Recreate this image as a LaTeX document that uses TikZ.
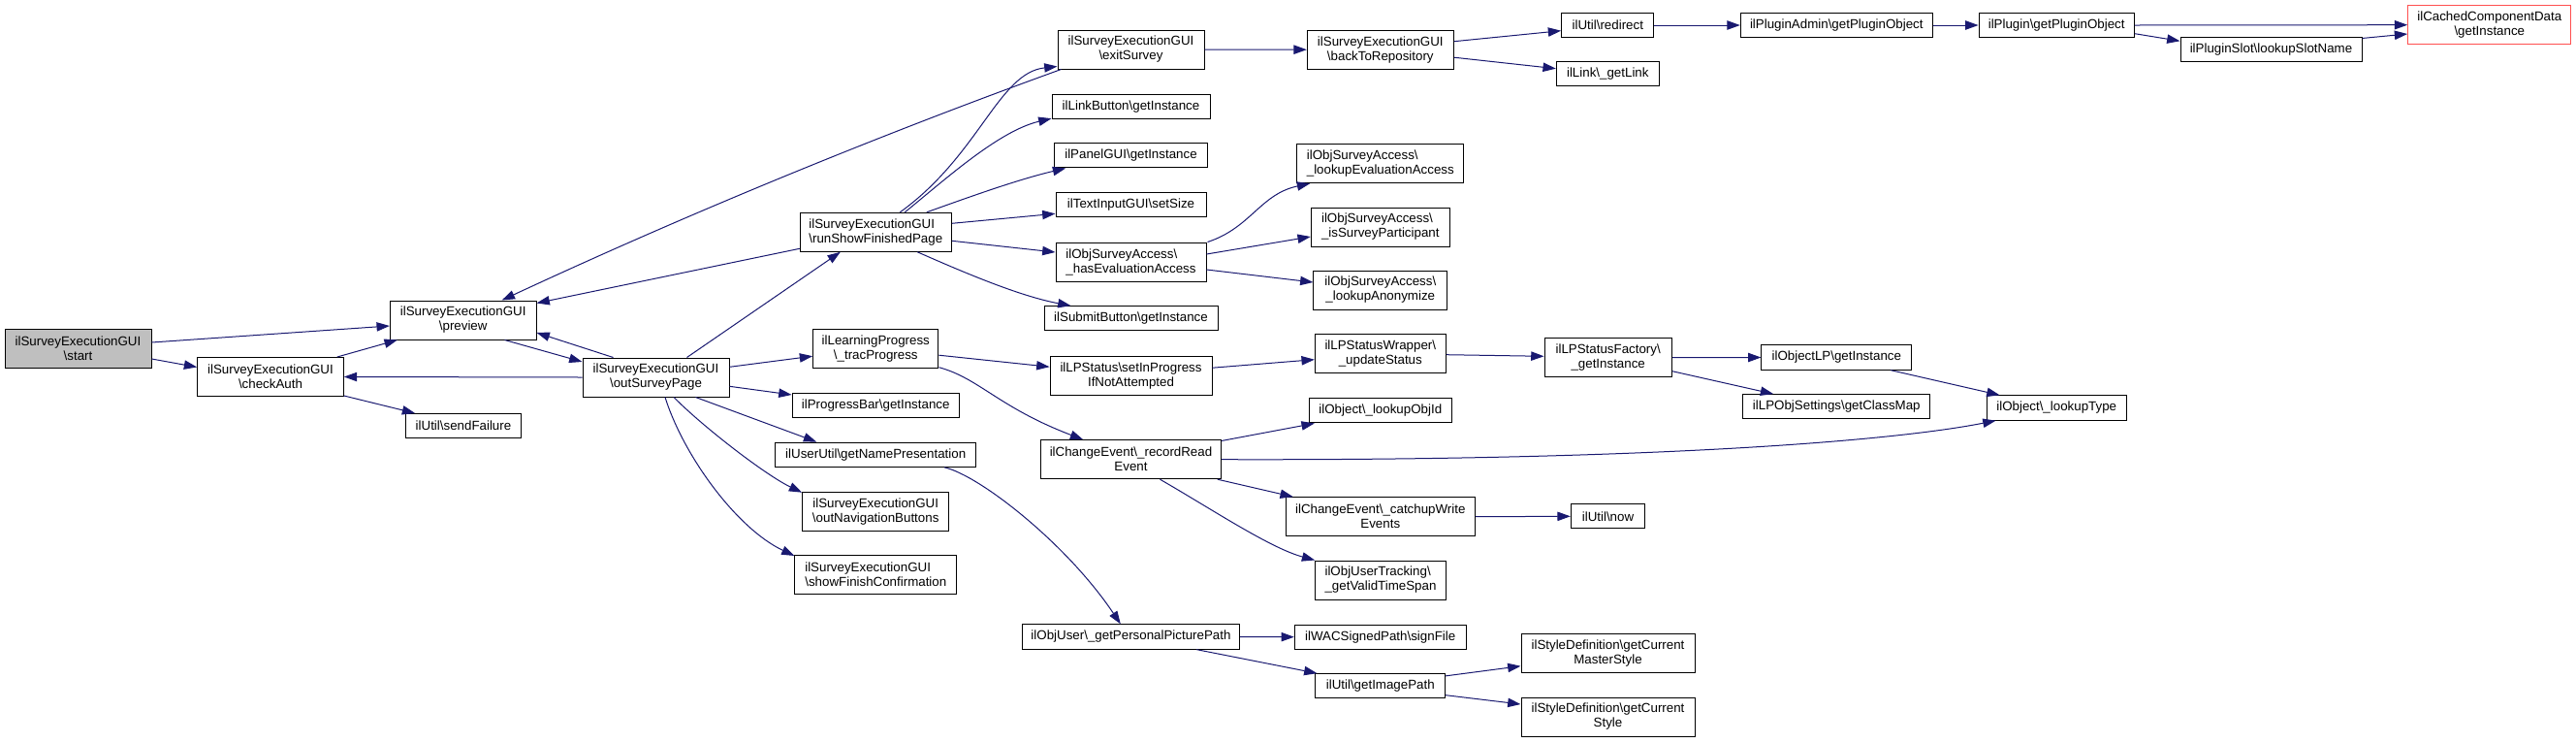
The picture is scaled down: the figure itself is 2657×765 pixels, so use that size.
\documentclass[tikz,border=0pt]{standalone}
\usepackage{fontspec}
\setmainfont{Liberation Sans}
\usetikzlibrary{arrows.meta,calc}
\newcommand{\BSL}{\textbackslash}
\definecolor{edgecol}{RGB}{25,25,112}
\definecolor{startfill}{RGB}{191,191,191}
\definecolor{truncred}{RGB}{255,80,80}
\begin{document}
\begin{tikzpicture}[x=0.75pt,y=-0.75pt,
  box/.style={draw=black, line width=0.75pt, fill=white, inner sep=1pt, align=center,
              font=\fontsize{10}{11.25}\selectfont},
  sz/.style 2 args={minimum width=#1*0.75pt, minimum height=#2*0.75pt},
  lft/.style={align=left},
  edge/.style={draw=edgecol, line width=0.75pt, -{Triangle[length=10pt,width=7pt]}}]
\useasboundingbox (0,0) rectangle (2657,765);

% ---------- nodes ----------
\node[box,sz={151}{40},fill=startfill] (start) at (80.5,359) {ilSurveyExecutionGUI\\\BSL start};
\node[box,sz={150.6}{40}] (checkAuth) at (279,388.5) {ilSurveyExecutionGUI\\\BSL checkAuth};
\node[box,sz={150.7}{40}] (preview) at (477.7,330) {ilSurveyExecutionGUI\\\BSL preview};
\node[box,sz={151}{40}] (outSurveyPage) at (676.5,389) {ilSurveyExecutionGUI\\\BSL outSurveyPage};
\node[box,sz={118.6}{25.3}] (sendFailure) at (478,439.2) {ilUtil\BSL sendFailure};
\node[box,sz={156}{40},lft] (runShow) at (903.3,239.3) {ilSurveyExecutionGUI\\\BSL runShowFinishedPage};
\node[box,sz={151}{40}] (exitSurvey) at (1166.5,51) {ilSurveyExecutionGUI\\\BSL exitSurvey};
\node[box,sz={163}{25.3}] (linkButton) at (1166.5,110) {ilLinkButton\BSL getInstance};
\node[box,sz={157.6}{25.3}] (panelGUI) at (1166.5,160.3) {ilPanelGUI\BSL getInstance};
\node[box,sz={155}{25.3}] (textInput) at (1166.5,211.3) {ilTextInputGUI\BSL setSize};
\node[box,sz={155}{40},lft] (hasEval) at (1166.5,270) {ilObjSurveyAccess\BSL\\\_hasEvaluationAccess};
\node[box,sz={179}{25.3}] (submitButton) at (1166.5,328.3) {ilSubmitButton\BSL getInstance};
\node[box,sz={129.3}{40}] (tracProgress) at (903.3,359.2) {ilLearningProgress\\\BSL\_tracProgress};
\node[box,sz={167}{40}] (setInProgress) at (1166.5,387.2) {ilLPStatus\BSL setInProgress\\IfNotAttempted};
\node[box,sz={172.3}{25.3}] (progressBar) at (903.2,418) {ilProgressBar\BSL getInstance};
\node[box,sz={207}{25.3}] (namePres) at (903.2,468.7) {ilUserUtil\BSL getNamePresentation};
\node[box,sz={151}{40}] (outNav) at (903.2,527.2) {ilSurveyExecutionGUI\\\BSL outNavigationButtons};
\node[box,sz={166.7}{40},lft] (showFinish) at (903.3,592.5) {ilSurveyExecutionGUI\\\BSL showFinishConfirmation};
\node[box,sz={185.6}{40}] (recordRead) at (1166.5,473.7) {ilChangeEvent\BSL\_recordRead\\Event};
\node[box,sz={224.4}{25.3}] (picPath) at (1166.5,656.5) {ilObjUser\BSL\_getPersonalPicturePath};
\node[box,sz={151}{40}] (backToRepo) at (1423.8,51.2) {ilSurveyExecutionGUI\\\BSL backToRepository};
\node[box,sz={95.3}{25.3}] (redirect) at (1658.3,26) {ilUtil\BSL redirect};
\node[box,sz={106}{25.3}] (getLink) at (1658.3,76.3) {ilLink\BSL\_getLink};
\node[box,sz={172.3}{40},lft] (lookupEval) at (1423.8,168.7) {ilObjSurveyAccess\BSL\\\_lookupEvaluationAccess};
\node[box,sz={143}{40},lft] (isPart) at (1423.8,234) {ilObjSurveyAccess\BSL\\\_isSurveyParticipant};
\node[box,sz={137.7}{40}] (lookupAnon) at (1423.8,299) {ilObjSurveyAccess\BSL\\\_lookupAnonymize};
\node[box,sz={135}{40}] (updateStatus) at (1423.8,364.7) {ilLPStatusWrapper\BSL\\\_updateStatus};
\node[box,sz={131.3}{40}] (statusFactory) at (1658.7,368.7) {ilLPStatusFactory\BSL\\\_getInstance};
\node[box,sz={147}{25.3}] (lookupObjId) at (1423.8,423.3) {ilObject\BSL\_lookupObjId};
\node[box,sz={195}{40}] (catchup) at (1423.8,532.7) {ilChangeEvent\BSL\_catchupWrite\\Events};
\node[box,sz={76.4}{25.3}] (now) at (1658.5,532.3) {ilUtil\BSL now};
\node[box,sz={134.6}{40},lft] (validTime) at (1424,598) {ilObjUserTracking\BSL\\\_getValidTimeSpan};
\node[box,sz={176.7}{25.3}] (signFile) at (1423.7,656.7) {ilWACSignedPath\BSL signFile};
\node[box,sz={133.7}{25.3}] (imagePath) at (1423.8,707.3) {ilUtil\BSL getImagePath};
\node[box,sz={179}{40}] (masterStyle) at (1658.5,673.7) {ilStyleDefinition\BSL getCurrent\\MasterStyle};
\node[box,sz={179}{40}] (curStyle) at (1658.5,739) {ilStyleDefinition\BSL getCurrent\\Style};
\node[box,sz={198}{25.3}] (pluginAdmin) at (1894.3,26) {ilPluginAdmin\BSL getPluginObject};
\node[box,sz={160.3}{25.3}] (plugin) at (2121.2,26) {ilPlugin\BSL getPluginObject};
\node[box,sz={187}{25.3}] (slotName) at (2342.5,51.3) {ilPluginSlot\BSL lookupSlotName};
\node[box,sz={168.3}{40},draw=truncred] (cached) at (2567.8,25.7) {ilCachedComponentData\\\BSL getInstance};
\node[box,sz={154.7}{25.3}] (objectLP) at (1894.3,368.5) {ilObjectLP\BSL getInstance};
\node[box,sz={193.3}{25.3}] (classMap) at (1894.3,419.3) {ilLPObjSettings\BSL getClassMap};
\node[box,sz={144.3}{25.3}] (lookupType) at (2121.2,420.5) {ilObject\BSL\_lookupType};

% ---------- edges ----------
\draw[edge] ($(start.east)+(0,-6)$) -- ($(preview.west)+(0,6)$);
\draw[edge] ($(start.east)+(0,11)$) -- ($(checkAuth.west)+(0,-10)$);
\draw[edge] ($(checkAuth.north east)+(-7,0)$) -- ($(preview.south west)+(8,0)$);
\draw[edge] ($(checkAuth.south east)+(0,-1)$) -- ($(sendFailure.north west)+(10,0)$);
\draw[edge] (outSurveyPage.west) -- (checkAuth.east);
\draw[edge] ($(preview.south east)+(-33,0)$) -- ($(outSurveyPage.west)+(0,-16)$);
\draw[edge] ($(outSurveyPage.north west)+(32,0)$) -- ($(preview.east)+(0,13)$);
\draw[edge] ($(runShow.west)+(0,17)$) -- ($(preview.north east)+(0,3)$);
\draw[edge] ($(exitSurvey.south west)+(4,0)$) .. controls (905,140) and (708,221) .. ($(preview.north)+(40,0)$);
\draw[edge] ($(outSurveyPage.north east)+(-44,0)$) -- ($(runShow.south west)+(42,0)$);
\draw[edge] ($(runShow.north)+(25,0)$) .. controls (1010,160) and (1030,75) .. ($(exitSurvey.south west)+(0,-3)$);
\draw[edge] ($(runShow.north)+(30,0)$) .. controls (975,185) and (1030,135) .. ($(linkButton.south west)+(0,-1)$);
\draw[edge] ($(runShow.north east)+(-26,0)$) .. controls (1000,203) and (1050,185) .. ($(panelGUI.south west)+(12,0)$);
\draw[edge] ($(runShow.east)+(0,-9)$) -- ($(textInput.west)+(0,9)$);
\draw[edge] ($(runShow.east)+(0,9)$) -- ($(hasEval.west)+(0,-10)$);
\draw[edge] ($(runShow.south)+(43,0)$) .. controls (990,279) and (1050,305) .. ($(submitButton.north west)+(28,0)$);
\draw[edge] (exitSurvey.east) -- (backToRepo.west);
\draw[edge] ($(backToRepo.east)+(0,-8.5)$) -- ($(redirect.west)+(0,5.7)$);
\draw[edge] ($(backToRepo.east)+(0,8)$) -- ($(getLink.west)+(0,-5.6)$);
\draw[edge] (redirect.east) -- (pluginAdmin.west);
\draw[edge] (pluginAdmin.east) -- (plugin.west);
\draw[edge] (plugin.east) -- (cached.west);
\draw[edge] ($(plugin.east)+(0,8.7)$) -- ($(slotName.west)+(0,-9)$);
\draw[edge] ($(slotName.north east)+(0,1.3)$) -- ($(cached.west)+(0,9.3)$);
\draw[edge] ($(hasEval.north east)+(1,0)$) .. controls (1290,235) and (1300,200) .. ($(lookupEval.south west)+(14,0)$);
\draw[edge] ($(hasEval.east)+(0,-8)$) -- ($(isPart.west)+(0,10)$);
\draw[edge] ($(hasEval.east)+(0,8)$) -- ($(lookupAnon.west)+(0,-8)$);
\draw[edge] ($(outSurveyPage.east)+(0,-10.7)$) -- ($(tracProgress.west)+(0,8)$);
\draw[edge] ($(outSurveyPage.east)+(0,9.3)$) -- ($(progressBar.west)+(0,-11)$);
\draw[edge] ($(outSurveyPage.south east)+(-35,0)$) -- ($(namePres.north west)+(43,0)$);
\draw[edge] ($(outSurveyPage.south)+(18.5,0)$) .. controls (725,440) and (790,490) .. ($(outNav.north west)+(0,1)$);
\draw[edge] ($(outSurveyPage.south)+(9.5,0)$) .. controls (705,470) and (760,545) .. ($(showFinish.north west)+(0,1)$);
\draw[edge] ($(tracProgress.east)+(0,7)$) -- ($(setInProgress.west)+(0,-9)$);
\draw[edge] ($(tracProgress.south east)+(0,-1)$) .. controls (1010,390) and (1030,420) .. ($(recordRead.north west)+(44,0)$);
\draw[edge] ($(setInProgress.east)+(0,-8)$) -- ($(updateStatus.west)+(0,6)$);
\draw[edge] ($(updateStatus.east)+(0,1)$) -- ($(statusFactory.west)+(0,-1.4)$);
\draw[edge] (statusFactory.east) -- (objectLP.west);
\draw[edge] ($(statusFactory.east)+(0,14)$) -- ($(classMap.north west)+(32,0)$);
\draw[edge] ($(objectLP.south east)+(-22,0)$) -- ($(lookupType.north west)+(14,0)$);
\draw[edge] ($(recordRead.north east)+(0,1.3)$) -- ($(lookupObjId.south west)+(6,0)$);
\draw[edge] (recordRead.east) .. controls (1700,475) and (1950,455) .. ($(lookupType.south west)+(10,0)$);
\draw[edge] ($(recordRead.south east)+(-4,0)$) -- ($(catchup.north west)+(8,0)$);
\draw[edge] ($(recordRead.south)+(30,0)$) .. controls (1250,525) and (1310,565) .. (validTime.north west);
\draw[edge] (catchup.east) -- (now.west);
\draw[edge] ($(namePres.south east)+(-33,0)$) .. controls (1010,490) and (1100,560) .. ($(picPath.north west)+(102,0)$);
\draw[edge] (picPath.east) -- (signFile.west);
\draw[edge] ($(picPath.south east)+(-45,0)$) -- ($(imagePath.north west)+(2,0)$);
\draw[edge] ($(imagePath.north east)+(0,2.7)$) -- ($(masterStyle.west)+(0,13)$);
\draw[edge] ($(imagePath.east)+(0,9.4)$) -- ($(curStyle.west)+(0,-13)$);
\end{tikzpicture}
\end{document}
